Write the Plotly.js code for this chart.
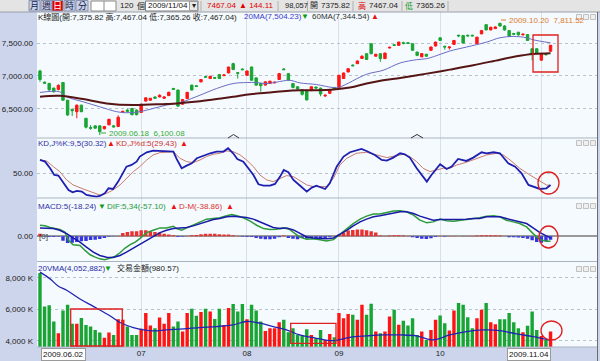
<!DOCTYPE html>
<html><head><meta charset="utf-8">
<script src="https://cdn.plot.ly/plotly-3.0.1.min.js"></script>
<style>html,body{margin:0;padding:0;background:#fff;}#chart{width:600px;height:361px;}</style>
</head><body><div id="chart"></div>
<script>
// ---------- DATA ----------
const monthTickIdx = [22, 45, 65, 87, 109];
const monthTickText = ['07', '08', '09', '10', ''];
const firstDate = '2009.06.02';
const lastDate = '2009.11.04';

const openP = [7075,6905,6885,6815,6795,6900,6630,6490,6455,6555,6355,6215,6240,6240,6195,6255,6240,6230,6445,6480,6505,6480,6445,6617,6630,6680,6680,6660,6700,6810,6785,6570,6655,6860,6850,6910,6990,6960,6975,7020,7005,7045,7187,7050,7105,7010,7136,6970,6885,6860,6885,6895,6945,7105,7035,6885,6835,
6790,6775,6775,6830,6815,6695,6735,6825,6823,6960,7060,7165,7187,7265,7338,7490,7300,7338,7263,7425,7475,7465,7505,7505,7490,7363,7290,7330,7390,7455,7580,7450,7430,7480,7620,7616,7620,7620,7490,7640,7780,7700,7720,7800,7760,7690,7645,7665,7625,7630,7414,7414,7240,7330,7375.82];
const highP = [7095,6915,6895,6820,6870,6905,6635,6505,6565,6560,6360,6250,6245,6245,6240,6345,6255,6400,6470,6500,6510,6490,6575,6670,6665,6690,6720,6690,6760,6815,6790,6650,6755,6865,6860,6950,7000,7000,6985,7025,7025,7140,7200,7060,7115,7080,7140,6975,6890,6915,6925,6910,7040,7120,7040,6890,6840,
6800,6790,6840,6840,6820,6720,6800,6830,7015,7050,7115,7175,7235,7313,7345,7495,7335,7345,7352,7445,7485,7520,7520,7515,7495,7368,7345,7335,7445,7520,7590,7460,7450,7545,7625,7620,7625,7625,7595,7700,7790,7750,7755,7811.52,7770,7695,7655,7670,7645,7635,7420,7420,7335,7345,7467.04];
const lowP = [6910,6880,6760,6745,6780,6620,6395,6390,6355,6450,6200,6180,6195,6100.08,6185,6250,6215,6220,6440,6440,6400,6400,6440,6610,6625,6650,6675,6650,6695,6790,6530,6560,6650,6780,6830,6900,6970,6955,6955,6955,6995,7040,7090,6960,7085,7000,6930,6850,6760,6855,6880,6885,6940,7090,6930,6810,6795,
6700,6625,6770,6810,6690,6680,6730,6790,6820,6955,7055,7145,7180,7260,7245,7330,7295,7215,7258,7420,7460,7460,7480,7485,7385,7300,7285,7290,7385,7450,7535,7400,7400,7475,7590,7495,7595,7600,7485,7635,7695,7695,7715,7750,7690,7600,7620,7615,7615,7535,7237,7335,7230,7315,7365.26];
const closeP = [6945,6890,6790,6760,6858,6630,6405,6470,6555,6455,6220,6205,6205,6150,6230,6340,6225,6370,6460,6460,6410,6410,6570,6667,6660,6660,6705,6680,6750,6795,6540,6640,6750,6785,6840,6945,6980,6995,6965,6960,7015,7135,7096,7040,7095,7075,6934,6860,6850,6910,6920,6905,7035,7095,6935,6825,6800,
6720,6635,6835,6815,6725,6705,6793,6800,7010,7045,7110,7155,7227,7300,7250,7338,7330,7263,7348,7435,7465,7515,7495,7495,7390,7313,7340,7300,7440,7515,7540,7440,7440,7540,7610,7500,7610,7610,7590,7690,7700,7740,7745,7760,7700,7605,7635,7625,7635,7540,7338,7340,7330,7322.93,7467.04];
const volumeK = [8320,6190,6260,5235,4490,5940,6300,5086,5086,5450,5020,4916,4700,4530,4210,4530,4380,5385,5340,4916,4380,4380,4770,5770,4980,4810,5490,5086,5770,4916,5235,4600,5770,6045,5600,5830,6045,5875,5400,6045,5020,6090,6340,5875,6340,5385,6300,5940,5235,4640,4810,4810,5190,5340,4555,4810,4400,
4383,4746,4383,4170,4703,4064,4447,4234,5768,5448,5704,5662,5342,6300,5662,6364,4597,4490,4597,5555,5981,5022,5278,4980,5448,4383,4597,4064,4703,5342,5619,5129,4661,5938,6407,6300,5512,4810,5448,5981,6407,5193,5065,5385,5385,5768,5193,4810,4554,4959,5874,4703,4320,4064,4597];
const macdHist = [30,-3,-8,-8,-5,-50,-76,-72,-65,-57,-53,-42,-38,-30,-19,-5,-3,4,38,49,57,57,68,68,57,49,42,30,19,11,-8,-5,2,11,15,23,30,30,30,23,19,19,11,4,-4,-8,-8,-19,-27,-34,-34,-27,-11,8,-19,-27,-34,
-19,-27,-23,-27,-27,-19,-8,0,19,42,65,72,76,76,68,57,42,8,4,8,11,11,8,4,-11,-19,-27,-30,-23,-8,4,-4,4,2,0,2,4,4,8,11,11,11,11,8,0,-11,-11,-15,-19,-27,-46,-65,-72,-57,-38.86];

const ma20X = [0,4.3,5.8,9.4,13.0,16.7,18.8,21.7,24.6,27.5,30.4,33.0,34.8,38.4,42.0,44.9,47.1,49.3,52.9,54.3,56.5,60.1,63.8,65.2,71.0,74.6,78.3,81.9,84.1,87.0,89.1,92.7,97.1,100.0,102.9,105.8,107.2,111];
const ma20Y = [6748,6758,6682,6606,6530,6455,6439,6455,6505,6556,6591,6657,6707,6808,6884,6899,6899,6884,6924,6934,6894,6869,6823,6833,7025,7086,7197,7247,7263,7328,7379,7439,7515,7581,7601,7581,7550,7504.23];
const ma60X = [0,4.3,9.4,14.5,20.3,23.9,27.5,31.2,34.8,38.4,42.0,45.7,49.3,52.9,56.5,60.1,63.8,67.4,71.0,74.6,78.3,84.1,89.1,94.2,100.0,103.6,107.2,111];
const ma60Y = [6682,6697,6647,6581,6556,6566,6571,6591,6616,6647,6682,6722,6742,6768,6783,6783,6793,6823,6884,6934,6970,7035,7096,7162,7247,7298,7333,7344.54];

const kX = [0,1.1,2.2,3.1,4.0,5.1,6.2,7.1,8.0,9.1,10.1,11.2,12.3,13.0,14.1,14.9,15.9,17.0,18.1,18.8,19.9,21.0,21.7,23.2,24.6,26.1,27.5,29.0,29.7,30.8,31.9,33.0,34.1,35.5,37.0,38.4,39.9,40.9,42.0,42.9,44.2,45.3,46.4,47.5,48.6,50.0,51.1,52.2,53.0,54.0,55.1,56.5,58.0,59.1,60.1,62.0,63.0,64.5,66.0,67.4,69.9,71.0,72.8,74.3,75.4,76.8,78.3,79.3,80.4,81.9,84.1,85.1,87.0,88.4,89.5,90.9,92.7,94.2,96.0,97.1,98.6,100.0,101.8,103.3,104.7,106.2,107.2,108.7,110.1,111];
const kY = [72.4,69.6,58.4,47.2,46.1,33.2,21.9,18.0,20.3,19.1,13.5,11.8,10.7,11.8,16.3,24.7,23.6,36.0,50.0,61.2,64.0,69.6,78.1,85.4,88.2,87.6,86.5,86.5,74.1,58.4,62.9,66.8,75.3,79.7,83.7,86.5,86.5,92.1,83.7,74.1,69.6,58.4,47.2,31.5,29.2,29.2,32.0,44.4,55.6,51.7,38.8,29.5,19.1,25.9,29.2,23.6,33.2,61.2,78.1,85.4,91.0,87.6,80.9,72.4,71.3,76.4,83.7,82.0,76.4,58.4,36.0,47.2,65.2,57.3,61.2,74.1,70.8,76.4,85.4,83.7,85.4,83.7,66.8,61.2,50.0,30.4,27.6,23.6,24.7,30.32];
const dX = [0,1.4,2.9,4.3,5.8,7.2,9.4,11.6,13.0,14.5,15.9,17.4,18.8,20.3,21.7,23.2,24.6,26.1,27.5,29.0,30.4,31.9,33.3,34.8,36.2,37.7,39.1,40.6,42.0,43.5,44.9,46.4,47.8,49.3,50.7,52.2,53.6,55.1,56.5,58.0,59.4,60.9,62.3,63.8,65.2,66.7,68.8,71.0,73.2,75.4,77.5,79.0,80.4,81.9,83.3,84.8,86.2,87.7,89.1,90.6,92.7,94.9,97.1,99.3,100.7,102.2,104.3,106.5,108.7,110.1,111];
const dY = [72.4,70.8,61.2,52.8,38.8,30.4,23.6,18.0,13.5,16.3,21.9,30.4,41.6,52.8,61.2,72.4,80.9,84.8,85.4,86.5,75.3,69.6,68.0,72.4,78.1,82.0,83.7,87.6,86.5,80.9,72.4,61.2,47.2,38.8,36.0,41.6,46.1,44.4,37.5,30.4,27.6,27.6,27.6,41.6,64.0,75.3,83.7,85.4,80.9,76.4,79.7,82.0,78.1,69.6,58.4,52.8,55.6,58.4,58.4,64.0,68.5,75.3,80.9,83.7,80.9,72.4,58.4,47.2,36.0,30.4,29.43];

const difX = [0,1.1,2.2,3.3,4.3,5.4,6.2,7.2,8.7,9.8,10.9,12.0,13.0,14.1,15.2,16.3,17.4,18.5,19.6,20.7,21.7,23.2,24.6,26.1,27.5,29.0,29.7,30.8,31.9,33.3,34.8,36.2,37.7,39.1,40.6,41.7,42.8,44.2,45.7,47.1,48.6,50.0,51.4,52.9,54.3,55.8,56.5,58.0,59.4,60.9,62.3,63.8,65.2,66.7,68.1,69.6,71.0,72.5,73.9,75.4,76.8,78.3,79.7,81.2,82.6,84.1,85.5,87.0,88.4,89.9,91.3,92.7,94.2,95.6,97.1,98.6,100.0,101.4,102.9,104.3,105.8,107.2,108.7,110.1,111];
const difY = [125,118,99,87,76,49,-46,-95,-103,-160,-209,-236,-255,-266,-247,-228,-186,-133,-95,-65,-27,42,68,95,95,114,87,68,95,125,163,194,201,209,232,247,232,209,171,125,87,76,80,95,76,19,-10,-34,-27,-38,-53,-38,19,87,144,194,228,251,251,270,285,289,277,239,182,152,163,194,175,171,179,190,194,209,228,232,220,182,163,144,106,30,-38,-57,-57.10];
const sigX = [0,1.4,2.9,4.3,5.8,7.2,8.7,10.1,11.6,13.0,14.5,15.9,17.4,18.8,20.3,21.7,23.2,24.6,26.1,27.5,29.0,30.4,31.9,33.3,34.8,36.2,37.7,39.1,40.6,42.0,43.5,44.9,46.4,47.8,49.3,50.7,52.2,53.6,55.1,56.5,58.0,59.4,60.9,62.3,63.8,65.2,66.7,68.1,69.6,71.0,72.5,73.9,75.4,76.8,78.3,79.7,81.2,82.6,84.1,85.5,87.0,88.4,89.9,91.3,92.7,94.2,95.6,97.1,98.6,100.0,101.4,102.9,104.3,105.8,107.2,108.7,110.1,111];
const sigY = [95,95,87,68,30,-19,-65,-122,-179,-217,-236,-239,-217,-179,-133,-91,-46,4,42,68,87,95,99,118,144,171,190,201,220,228,220,213,194,163,133,99,87,95,72,30,-8,-19,-27,-27,-19,19,68,118,163,194,220,232,247,258,277,277,258,228,201,182,190,190,190,190,194,201,201,220,220,220,201,182,171,144,95,42,4,-18.24];

const vmaX = [0,2.2,4.0,5.8,8.7,11.6,15.2,17.4,20.3,22.5,24.6,27.5,31.2,34.8,38.4,42.0,44.9,47.8,50.7,53.6,56.5,60.1,63.8,67.4,71.0,74.6,78.3,81.9,85.5,89.1,92.7,96.4,100.0,103.6,107.2,111];
const vmaY = [8367,7940,7472,7216,6663,6194,5598,5172,4852,4703,4639,4703,4767,4852,4916,5022,5235,5129,4916,4703,4383,4170,4021,4234,4320,4383,4383,4320,4064,4383,4596,4703,4660,4447,4277,4053];

// ---------- CHART ----------
const W = 600, H = 361;
const fx = X => X / W, fy = Y => 1 - Y / H;
const RED = '#ff1414', GREEN = '#18a534';
const idx = openP.map((_, i) => i);
const volColors = idx.map(i => closeP[i] >= openP[i] ? RED : GREEN);
const histColors = macdHist.map(v => v >= 0 ? '#e83232' : '#3535e0');

const traces = [
  {type: 'candlestick', x: idx, open: openP, high: highP, low: lowP, close: closeP, xaxis: 'x', yaxis: 'y',
   increasing: {line: {color: RED, width: 1}, fillcolor: RED},
   decreasing: {line: {color: GREEN, width: 1}, fillcolor: GREEN}, whiskerwidth: 0, hoverinfo: 'skip'},
  {type: 'scatter', mode: 'lines', x: ma20X, y: ma20Y, yaxis: 'y', line: {color: '#6c6cc4', width: 1, shape: 'spline'}},
  {type: 'scatter', mode: 'lines', x: ma60X, y: ma60Y, yaxis: 'y', line: {color: '#561414', width: 2, shape: 'spline'}},
  {type: 'scatter', mode: 'lines', x: dX, y: dY, yaxis: 'y2', line: {color: '#c97a70', width: 1}},
  {type: 'scatter', mode: 'lines', x: kX, y: kY, yaxis: 'y2', line: {color: '#1e1eb0', width: 1.8}},
  {type: 'bar', x: idx, y: macdHist, yaxis: 'y3', width: 0.75, marker: {color: histColors}},
  {type: 'scatter', mode: 'lines', x: difX, y: difY, yaxis: 'y3', line: {color: '#2e9a3a', width: 1.5}},
  {type: 'scatter', mode: 'lines', x: sigX, y: sigY, yaxis: 'y3', line: {color: '#1a1aa8', width: 1.5}},
  {type: 'bar', x: idx, y: volumeK, yaxis: 'y4', width: 0.74, marker: {color: volColors}},
  {type: 'scatter', mode: 'lines', x: vmaX, y: vmaY, yaxis: 'y4', line: {color: '#2222b4', width: 1.3, shape: 'spline'}}
];

const yBase = {ticks: '', zeroline: false, showline: false, gridcolor: '#b9c3ce', griddash: 'dot', gridwidth: 1,
  tickfont: {size: 8, color: '#222'}, anchor: 'x', fixedrange: true, ticklabelstandoff: 3};

const shapes = [];
const rectPx = (x0, y0, x1, y1, line, fill, width) => shapes.push({type: 'rect', xref: 'paper', yref: 'paper',
  x0: fx(x0), x1: fx(x1), y0: fy(y0), y1: fy(y1), line: {color: line, width: width === undefined ? 1 : width}, fillcolor: fill || 'rgba(0,0,0,0)'});
const linePx = (x0, y0, x1, y1, color, width) => shapes.push({type: 'line', xref: 'paper', yref: 'paper',
  x0: fx(x0), x1: fx(x1), y0: fy(y0), y1: fy(y1), line: {color: color, width: width || 1}});
const circPx = (x0, y0, x1, y1) => shapes.push({type: 'circle', xref: 'paper', yref: 'paper',
  x0: fx(x0), x1: fx(x1), y0: fy(y0), y1: fy(y1), line: {color: '#e02020', width: 1.3}});

// toolbar
rectPx(0, 0, 600, 12, '#e4e4e4', '#e4e4e4', 0);
linePx(0, 12, 600, 12, '#9aa0aa', 1);
[[29, 40], [41, 52], [52, 63], [64, 75], [76, 88]].forEach((b, i) =>
  rectPx(b[0], 0.5, b[1], 11, '#8592b2', i === 2 ? '#e40000' : '#c8d1ea', 1));
rectPx(91, 1, 116, 11, '#8a8a8a', '#ffffff', 1);
linePx(104, 1, 104, 11, '#8a8a8a', 1);
rectPx(145.5, 1, 198, 11, '#7a7a7a', '#ffffff', 1);
rectPx(189.5, 1.5, 197.5, 10.5, '#9a9a9a', '#e8e8e8', 1);
[201, 278, 307.5, 353, 402, 448].forEach(x => linePx(x, 1, x, 11, '#b0b0b0', 1));
// panel separators & frame
[138, 198, 261.5, 347].forEach(y => linePx(37, y, 597, y, '#aab3c2', 1));
linePx(597.5, 12, 597.5, 361, '#6d6d6d', 1);
// small window icons per panel
[17, 143, 206, 269].forEach(y => { [579, 586, 593].forEach(x => rectPx(x - 2.5, y - 2.5, x + 2.5, y + 2.5, '#b4b4b4', '#efefef', 0.8)); });
// chevrons
[[228, 239], [411, 423]].forEach(c => shapes.push({type: 'path', xref: 'paper', yref: 'paper',
  path: `M ${fx(c[0])} ${fy(138)} L ${fx((c[0] + c[1]) / 2)} ${fy(134.5)} L ${fx(c[1])} ${fy(138)}`, line: {color: '#333', width: 1}}));
// extreme markers
linePx(101, 133, 106, 133, '#3aa63a', 1);
linePx(501, 20, 506, 20, '#e07a30', 1);
// highlights
rectPx(533, 35, 558, 72, '#e02020', null, 1.3);
circPx(538, 172, 559, 194);
circPx(539, 226, 558, 248);
circPx(541, 321, 562, 340);
rectPx(70.7, 309, 122.3, 346, '#e02020', null, 1.3);
rectPx(290.7, 323.3, 336, 343.3, '#e02020', null, 1.3);

const ann = [];
const txt = (text, X, Y, color, anchor, size, extra) => ann.push(Object.assign({text: text, xref: 'paper', yref: 'paper',
  x: fx(X), y: fy(Y), xanchor: anchor || 'left', yanchor: 'middle', showarrow: false,
  font: {size: size || 8, color: color || '#222'}, borderpad: 0}, extra || {}));
// toolbar texts
['月', '週', '日', '時', '分'].forEach((t, i) => txt(t, [34.5, 46.5, 57.5, 69.5, 82][i], 6, i === 2 ? '#ffffff' : '#1a1a40', 'center', 9));
txt('120', 134.5, 6, '#222', 'right', 8);
txt('個', 135.5, 6, '#222', 'left', 8);
txt('2009/11/04', 147, 6, '#111', 'left', 8);
txt('▾', 193.5, 6, '#222', 'center', 8);
txt('7467.04', 206, 6, '#e00000', 'left', 8);
txt('▲ 144.11', 238, 6, '#e00000', 'left', 8);
txt('98,057', 284, 6, '#222', 'left', 7.5);
txt('開', 309, 6, '#222', 'left', 8);
txt('7375.82', 320, 6, '#222', 'left', 8);
txt('高', 357, 6, '#e00000', 'left', 8);
txt('7467.04', 368, 6, '#222', 'left', 8);
txt('低', 404, 6, '#1a9a2a', 'left', 8);
txt('7365.26', 415, 6, '#222', 'left', 8);
// panel titles
txt('K線圖(開:7,375.82 高:7,467.04 低:7,365.26 收:7,467.04)', 37, 17, '#1c1c1c');
txt('20MA(7,504.23)', 243, 17, '#3a3acc');
txt('▼', 300, 17, '#119911');
txt('60MA(7,344.54)', 311, 17, '#333');
txt('▲', 370, 17, '#ee1111');
txt('2009.10.20  7,811.52', 508, 20, '#e07a30');
txt('2009.06.18  6,100.08', 108, 133, '#38aa38');
txt('KD,J%K:9,5(30.32)', 37, 143, '#3030a8');
txt('▲', 106, 143, '#ee1111');
txt('KD,J%d:5(29.43)', 115, 143, '#d03030');
txt('▲', 179, 143, '#ee1111');
txt('MACD:5(-18.24)', 37, 206, '#3030a8');
txt('▼', 97, 206, '#119911');
txt('DIF:5,34(-57.10)', 106, 206, '#22993a');
txt('▲', 169, 206, '#ee1111');
txt('D-M(-38.86)', 178, 206, '#dd3333');
txt('▲', 225, 206, '#ee1111');
txt('[0]', 38, 237, '#333');
txt('20VMA(4,052,882)', 37, 268, '#2a2aaa');
txt('▼', 103, 268, '#119911');
txt('交易金額(980.57)', 116, 268, '#222');
txt(firstDate, 41, 354, '#111', 'left', 8, {bgcolor: '#ffffff', bordercolor: '#9a9a9a', borderwidth: 1, borderpad: 1});
txt(lastDate, 551, 354, '#111', 'right', 8, {bgcolor: '#ffffff', bordercolor: '#9a9a9a', borderwidth: 1, borderpad: 1});

const layout = {
  width: W, height: H, margin: {l: 0, r: 0, t: 0, b: 0},
  paper_bgcolor: '#cdd5ec', plot_bgcolor: '#f4fafd', showlegend: false, hovermode: false,
  barmode: 'overlay', boxgap: 0.25, dragmode: false,
  font: {family: 'Liberation Sans, Noto Sans CJK TC, DejaVu Sans, sans-serif', size: 8, color: '#222'},
  xaxis: {domain: [fx(37), fx(597)], range: [-0.65, 121.1], anchor: 'y4', tickmode: 'array',
    tickvals: monthTickIdx, ticktext: monthTickText, showgrid: true, gridcolor: '#d9e0ea', gridwidth: 1,
    ticks: '', zeroline: false, showline: false, rangeslider: {visible: false}, fixedrange: true,
    tickfont: {size: 8, color: '#222'}},
  yaxis: Object.assign({}, yBase, {domain: [fy(138), fy(12)], range: [6055, 7973],
    tickvals: [6500, 7000, 7500], ticktext: ['6,500.00', '7,000.00', '7,500.00']}),
  yaxis2: Object.assign({}, yBase, {domain: [fy(198), fy(138)], range: [8.4, 109.4],
    tickvals: [50], ticktext: ['50.00']}),
  yaxis3: Object.assign({}, yBase, {domain: [fy(261.5), fy(198)], range: [-285, 433],
    tickvals: [0], ticktext: ['0.00'], showgrid: false, zeroline: true, zerolinecolor: '#9a9a9a', zerolinewidth: 2}),
  yaxis4: Object.assign({}, yBase, {domain: [fy(347), fy(261.5)], range: [3617, 9042],
    tickvals: [4000, 6000, 8000], ticktext: ['4,000 K', '6,000 K', '8,000 K']}),
  shapes: shapes, annotations: ann
};

Plotly.newPlot('chart', traces, layout, {staticPlot: true, displayModeBar: false});
</script>
</body></html>
